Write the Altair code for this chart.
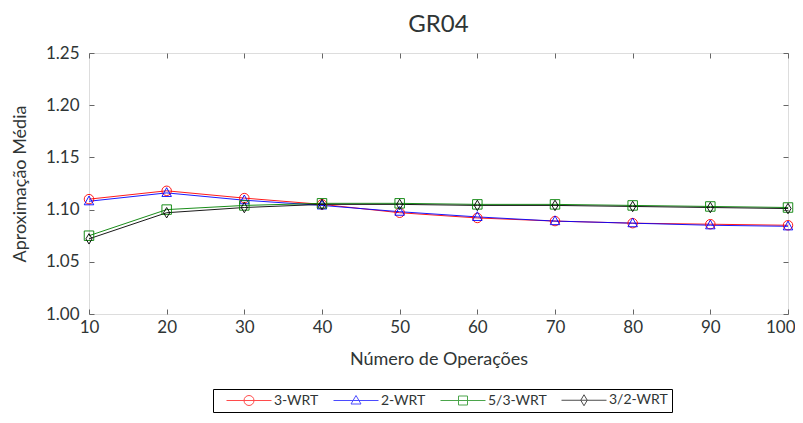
import altair as alt
import pandas as pd

ops = [10, 20, 30, 40, 50, 60, 70, 80, 90, 100]
wrt3 = [1.110, 1.118, 1.111, 1.105, 1.097, 1.092, 1.089, 1.087, 1.086, 1.085]
wrt2 = [1.108, 1.116, 1.109, 1.104, 1.098, 1.093, 1.089, 1.087, 1.085, 1.084]
wrt53 = [1.075, 1.100, 1.104, 1.106, 1.106, 1.105, 1.105, 1.104, 1.103, 1.102]
wrt32 = [1.072, 1.097, 1.102, 1.105, 1.105, 1.104, 1.104, 1.103, 1.102, 1.101]
names = ["3-WRT", "2-WRT", "5/3-WRT", "3/2-WRT"]
colors = ["#ff0000", "#0000ff", "#008000", "#000000"]
y_ticks = [1.00, 1.05, 1.10, 1.15, 1.20, 1.25]

rows = []
for k, (nm, vals) in enumerate(zip(names, [wrt3, wrt2, wrt53, wrt32])):
    for o, v in zip(ops, vals):
        rows.append({"ops": o, "val": v, "series": nm, "order": k})
df = pd.DataFrame(rows)

FONT = "Lato"
TXT = "#2f3535"

xs = alt.Scale(domain=[10, 100], nice=False, zero=False)
ys = alt.Scale(domain=[1.0, 1.25], nice=False, zero=False)
cs = alt.Scale(domain=names, range=colors)

marker_paths = [
    "circle",
    "M0,-1.1L1,0.75L-1,0.75Z",
    "square",
    "M0,-1.1L0.65,0L0,1.1L-0.65,0Z",
]
legend_paths = [
    "M-4.5,0H4.5M1,0A1,1 0 1,1 -1,0A1,1 0 1,1 1,0Z",
    "M-4.5,0H4.5M0,-1L1,0.7L-1,0.7Z",
    "M-4.5,0H4.5M-0.9,-0.9H0.9V0.9H-0.9Z",
    "M-4.5,0H4.5M0,-1.1L0.65,0L0,1.1L-0.65,0Z",
]

base = alt.Chart(df)

x_main = alt.X("ops:Q", scale=xs, axis=alt.Axis(
    values=ops, format="d", offset=-5, tickSize=5, domain=False, grid=False,
    labelPadding=5, labelFontSize=17, labelFont=FONT, labelColor=TXT, labelFlush=False,
    labelAlign=alt.expr("datum.value == 100 ? 'right' : 'center'"),
    labelOffset=alt.expr("datum.value == 100 ? 7 : 0"),
    tickColor="#666666", title="Número de Operações", titleFont=FONT, titleFontSize=18,
    titleFontWeight="normal", titleColor=TXT, titlePadding=15))
y_main = alt.Y("val:Q", scale=ys, axis=alt.Axis(
    values=y_ticks, format=".2f", offset=-5, tickSize=5, domain=False, grid=False,
    labelPadding=10, labelFontSize=17, labelFont=FONT, labelColor=TXT,
    tickColor="#666666", title="Aproximação Média", titleFont=FONT, titleFontSize=18,
    titleFontWeight="normal", titleColor=TXT, titlePadding=16))

lines = base.mark_line(strokeWidth=0.9).encode(
    x=x_main, y=y_main,
    color=alt.Color("series:N", scale=cs, legend=None),
    order=alt.Order("ops:Q"),
)

x_none = alt.X("ops:Q", scale=xs, axis=None)
y_none = alt.Y("val:Q", scale=ys, axis=None)

points = base.mark_point(filled=False, size=90, strokeWidth=0.9, opacity=1).encode(
    x=x_none, y=y_none,
    color=alt.Color("series:N", scale=cs, legend=None),
    shape=alt.Shape("series:N", scale=alt.Scale(domain=names, range=marker_paths), legend=None),
)

ticks_tr = base.mark_point(opacity=0).encode(
    x=alt.X("ops:Q", scale=xs, axis=alt.Axis(orient="top", values=ops, offset=-5, tickSize=5,
                                             domain=False, grid=False, labels=False, title=None,
                                             tickColor="#666666")),
    y=alt.Y("val:Q", scale=ys, axis=alt.Axis(orient="right", values=y_ticks, offset=-5, tickSize=5,
                                             domain=False, grid=False, labels=False, title=None,
                                             tickColor="#666666")),
)

leg = alt.Legend(title=None, orient="none", legendX=124, legendY=336, direction="horizontal",
                 columns=4, strokeColor="#000000", fillColor="#ffffff", padding=4,
                 symbolSize=100, symbolOffset=25, labelOffset=18, symbolStrokeWidth=1,
                 labelFontSize=14, labelFont=FONT, labelColor=TXT, labelFontWeight="normal",
                 columnPadding=5)

legend_layer = base.transform_filter("false").mark_point(filled=False, size=100, strokeWidth=1).encode(
    x=x_none, y=y_none,
    color=alt.Color("series:N", scale=cs, legend=leg),
    shape=alt.Shape("series:N", scale=alt.Scale(domain=names, range=legend_paths), legend=leg),
)

chart = alt.layer(lines, points, ticks_tr, legend_layer).resolve_axis(
    x="independent", y="independent"
).resolve_scale(
    shape="independent", color="independent"
).properties(
    width=699, height=261,
    title=alt.TitleParams("GR04", fontSize=24, font=FONT, fontWeight="normal", color=TXT, offset=7),
    padding={"left": 81, "top": 45, "right": 7, "bottom": 101},
    autosize=alt.AutoSizeParams(type="none"),
).configure_view(stroke="#333333", strokeWidth=1).configure(background="#ffffff")

chart.save("out.html", embed_options={"renderer": "svg", "actions": False})
